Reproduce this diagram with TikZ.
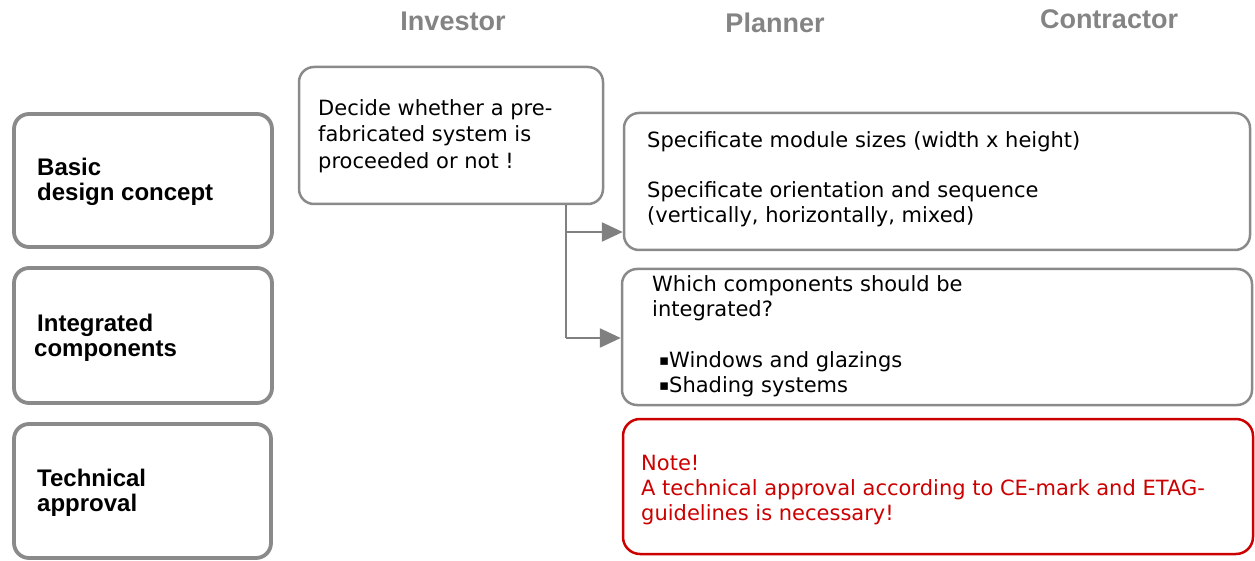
\documentclass[tikz,border=0pt]{standalone}
\usepackage{fontspec}
\setmainfont{DejaVu Sans}
\newfontfamily\arialfont{Liberation Sans}
\usetikzlibrary{arrows.meta}
\definecolor{boxgray}{RGB}{138,138,138}
\definecolor{headgray}{RGB}{132,132,132}
\definecolor{notered}{RGB}{204,0,0}
\definecolor{linegray}{RGB}{128,128,128}
\newcommand{\sqbul}{\hspace*{7pt}\makebox[10pt][l]{\raisebox{2.5pt}{\fontsize{15}{15}\selectfont ▪}}}
\begin{document}
\begin{tikzpicture}[x=1pt,y=-1pt,
  rolebox/.style={draw=boxgray, line width=3.8pt, rounded corners=15pt, minimum width=258pt, inner sep=0pt},
  taskbox/.style={draw=boxgray, line width=2.5pt, rounded corners=15pt, inner sep=0pt},
  notebox/.style={draw=notered, line width=2.5pt, rounded corners=17pt, inner sep=0pt},
  head/.style={text=headgray, font=\arialfont\bfseries\fontsize{27}{30}\selectfont, inner sep=0pt},
  rolelabel/.style={anchor=west, align=left, inner sep=0pt, font=\arialfont\bfseries\fontsize{24}{25}\selectfont},
  body/.style={anchor=west, align=left, inner sep=0pt, font=\fontsize{21}{25}\selectfont},
  conn/.style={draw=linegray, line width=2.5pt},
  arr/.style={conn, -{Triangle[length=21pt,width=19pt]}}
]
\useasboundingbox (0,0) rectangle (1255,561);
% headers
\node[head] (hinv) at (453,21) {Investor};
\node[head] (hplan) at (775,23) {Planner};
\node[head] (hcon) at (1109,19) {Contractor};
% left boxes
\node[rolebox, minimum height=133pt] (r1) at (143,180.5) {};
\node[rolebox, minimum height=135pt] (r2) at (143,335.5) {};
\node[rolebox, minimum width=257pt, minimum height=134pt] (r3) at (142.5,491) {};
\node[rolelabel] (l1) at (37,182) {Basic\\design concept};
\node[rolelabel] (l2) at (34,338) {\hspace*{3pt}Integrated\\components};
\node[rolelabel] (l3) at (37,492.5) {Technical\\approval};
% investor box
\node[taskbox, minimum width=304pt, minimum height=137pt] (inv) at (451,135.5) {};
\node[body, font=\fontsize{21}{26.5}\selectfont] (tinv) at (318,136) {Decide whether a pre-\\fabricated system is\\proceeded or not !};
% planner boxes
\node[taskbox, minimum width=626pt, minimum height=137pt] (p1) at (937,181.5) {};
\node[body] (tp1) at (647,179.5) {Specificate module sizes (width x height)\\[25pt]Specificate orientation and sequence\\(vertically, horizontally, mixed)};
\node[taskbox, minimum width=630pt, minimum height=136pt] (p2) at (937,337) {};
\node[body] (tp2) at (652,336.5) {Which components should be\\integrated?\\[26pt]\sqbul Windows and glazings\\\sqbul Shading systems};
% note box
\node[notebox, minimum width=630pt, minimum height=135pt] (nb) at (938,486.5) {};
\node[body, text=notered] (tn) at (641,490) {Note!\\A technical approval according to CE-mark and ETAG-\\guidelines is necessary!};
% connectors
\coordinate (j1) at (566,232);
\coordinate (j2) at (566,338);
\draw[conn] (inv.south -| j1) -- (j2);
\draw[arr] (j1) -- (j1 -| p1.west);
\draw[arr] (j2) -- (j2 -| p2.west);
\end{tikzpicture}
\end{document}
